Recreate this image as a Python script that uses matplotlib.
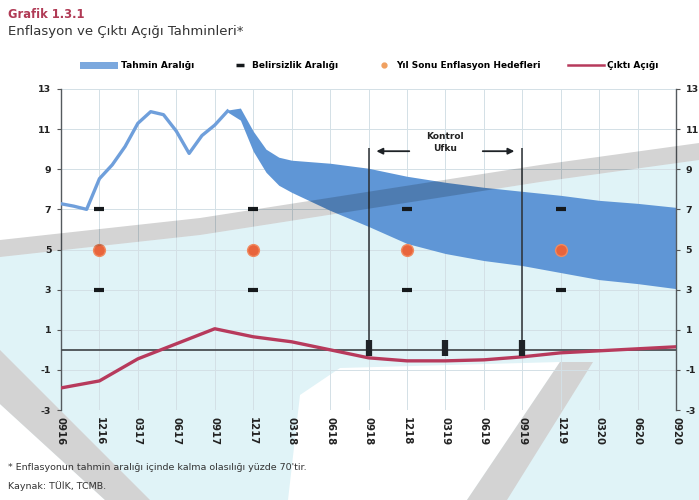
import matplotlib.pyplot as plt
from matplotlib.patches import Polygon, Patch
from matplotlib.lines import Line2D

W, H = 699, 500

# quarter labels (MMYY), one every 3 months starting Sep 2016
quarter_labels = ["0916", "1216", "0317", "0617", "0917", "1217", "0318", "0618",
                  "0918", "1218", "0319", "0619", "0919", "1219", "0320", "0620", "0920"]
quarter_months = list(range(0, 49, 3))

# realised annual CPI inflation, monthly from Sep 2016
infl_months = list(range(14))
infl_actual = [7.28, 7.16, 7.00, 8.53, 9.22, 10.13, 11.29, 11.87, 11.72, 10.90,
               9.79, 10.68, 11.20, 11.90]

# forecast range (upper / lower bounds)
band_months = [13, 14, 15, 16, 17, 18, 21, 24, 27, 30, 33, 36, 39, 42, 45, 48]
band_upper = [11.95, 12.05, 10.9, 10.0, 9.6, 9.45, 9.3, 9.05, 8.65, 8.35, 8.1,
              7.9, 7.7, 7.45, 7.3, 7.1]
band_lower = [11.85, 11.45, 9.9, 8.85, 8.2, 7.85, 6.95, 6.15, 5.3, 4.8, 4.45,
              4.2, 3.85, 3.5, 3.3, 3.05]

# output gap, quarterly
output_gap = [-1.9, -1.55, -0.45, 0.3, 1.05, 0.65, 0.4, 0.0, -0.4, -0.55, -0.55,
              -0.5, -0.35, -0.15, -0.05, 0.05, 0.15]

# year-end targets and uncertainty range
target_months = [3, 15, 27, 39]
target_values = [5, 5, 5, 5]
range_upper = [7, 7, 7, 7]
range_lower = [3, 3, 3, 3]

horizon_start, horizon_end = 24, 36
horizon_marks = [24, 30, 36]

yticks = [-3, -1, 1, 3, 5, 7, 9, 11, 13]

blue_band = "#5f96d6"
blue_line = "#6f9fdb"
red = "#b73a5c"
orange = "#e8643c"
cyan = "#e0f3f7"

fig = plt.figure(figsize=(W / 100, H / 100), dpi=100)
fig.patch.set_facecolor("white")


def fig_poly(points, **kw):
    xy = [(x / W, 1 - y / H) for x, y in points]
    fig.add_artist(Polygon(xy, closed=True, transform=fig.transFigure,
                           linewidth=0, **kw))


# page background shapes
grey_top = [(0, 240), (200, 218), (540, 165), (699, 143)]
grey_bot = [(x, y + 17) for x, y in grey_top]
fig_poly(grey_bot + [(699, 500), (0, 500)], facecolor=cyan, zorder=-5)
fig_poly([(288, 500), (300, 395), (340, 368), (560, 362), (467, 500)],
         facecolor="white", zorder=-4)
fig_poly([(0, 404), (105, 500), (0, 500)], facecolor="white", zorder=-4)
fig_poly([(0, 350), (150, 500), (105, 500), (0, 404)], facecolor="#d3d3d3", zorder=-3)
fig_poly([(560, 362), (593, 362), (507, 500), (467, 500)], facecolor="#d3d3d3", zorder=-3)
fig_poly(grey_top + grey_bot[::-1], facecolor="black", alpha=0.17, zorder=5)

ax = fig.add_axes([61 / W, 1 - 410 / H, 615 / W, 321 / H])
ax.set_facecolor("none")
ax.set_xlim(0, 48)
ax.set_ylim(-3, 13)

# grid
for m in quarter_months:
    ax.axvline(m, color="#d3e0e6", lw=0.7, zorder=0)
for v in yticks:
    ax.axhline(v, color="#d3e0e6", lw=0.7, zorder=0)

ax.fill_between(band_months, band_lower, band_upper, color=blue_band, lw=0, zorder=2)
ax.plot(infl_months, infl_actual, color=blue_line, lw=2.4, zorder=3,
        solid_joinstyle="round")

ax.axhline(0, color="#4a4f52", lw=1.3, zorder=3)
ax.plot(quarter_months, output_gap, color=red, lw=2.4, zorder=4)

# control horizon
ax.vlines([horizon_start, horizon_end], 0, 10.05, color="#2b2f33", lw=1.1, zorder=4)
ax.plot(horizon_marks, [0.1] * len(horizon_marks), ls="none", marker="|",
        ms=11, mew=4.5, color="#1e2226", zorder=5)
arrow = dict(arrowstyle="-|>", color="#1e2226", lw=1.3, mutation_scale=9)
ax.annotate("", xy=(horizon_start + 0.4, 9.9), xytext=(27.4, 9.9), arrowprops=arrow)
ax.annotate("", xy=(horizon_end - 0.4, 9.9), xytext=(32.7, 9.9), arrowprops=arrow)
ax.text((horizon_start + horizon_end) / 2, 10.35, "Kontrol\nUfku", ha="center",
        va="center", fontsize=6.5, fontweight="bold", color="#222", linespacing=1.4)

# uncertainty range and targets
ax.plot(target_months, range_upper, ls="none", marker="_", ms=7, mew=3,
        color="#15191c", zorder=5)
ax.plot(target_months, range_lower, ls="none", marker="_", ms=7, mew=3,
        color="#15191c", zorder=5)
ax.plot(target_months, target_values, ls="none", marker="o", ms=8.5,
        color=orange, mec="#f08a60", mew=1, zorder=5)

# axes styling
ax.set_xticks(quarter_months)
ax.set_xticklabels(quarter_labels, rotation=-90, fontsize=7.3, fontweight="bold",
                   color="#222")
ax.tick_params(axis="x", length=0, pad=5)
ax.set_yticks(yticks)
ax.set_yticklabels([str(v) for v in yticks], fontsize=6.8, fontweight="bold",
                   color="#222")
ax.tick_params(axis="y", length=3, width=0.8, color="#555", pad=4,
               labelleft=True, labelright=True, left=True, right=True)
for side in ["top", "bottom"]:
    ax.spines[side].set_visible(False)
for side in ["left", "right"]:
    ax.spines[side].set_color("#555a5e")
    ax.spines[side].set_linewidth(1.0)

# legend entries, each placed on its own: (handle, label, left px, handle length)
legend_items = [
    (Patch(facecolor="#7ba8de", edgecolor="none"), "Tahmin Aralığı", 80, 4.2),
    (Line2D([], [], ls="none", marker="_", ms=6, mew=2.5, color="#15191c"),
     "Belirsizlik Aralığı", 231, 2.0),
    (Line2D([], [], ls="none", marker="o", ms=3.5, color="#f0a060"),
     "Yıl Sonu Enflasyon Hedefleri", 375, 2.0),
    (Line2D([], [], color=red, lw=1.8), "Çıktı Açığı", 568, 4.0),
]
for handle, label, x0, hl in legend_items:
    fig.legend([handle], [label], loc="center left",
               bbox_to_anchor=(x0 / W, 1 - 66 / H), frameon=False,
               handlelength=hl, handleheight=0.9, handletextpad=0.3,
               borderpad=0, borderaxespad=0,
               prop={"weight": "bold", "size": 6.5})

fig.text(8 / W, 1 - 14 / H, "Grafik 1.3.1", fontsize=8.3, fontweight="bold",
         color="#b03a55", va="center")
fig.text(8 / W, 1 - 32 / H, "Enflasyon ve Çıktı Açığı Tahminleri*", fontsize=9.5,
         color="#333", va="center")
fig.text(8 / W, 1 - 468 / H,
         "* Enflasyonun tahmin aralığı içinde kalma olasılığı yüzde 70'tir.",
         fontsize=6.8, color="#333", va="center")
fig.text(8 / W, 1 - 486 / H, "Kaynak: TÜİK, TCMB.", fontsize=6.8, color="#333",
         va="center")

fig.savefig("out.png", dpi=100)
